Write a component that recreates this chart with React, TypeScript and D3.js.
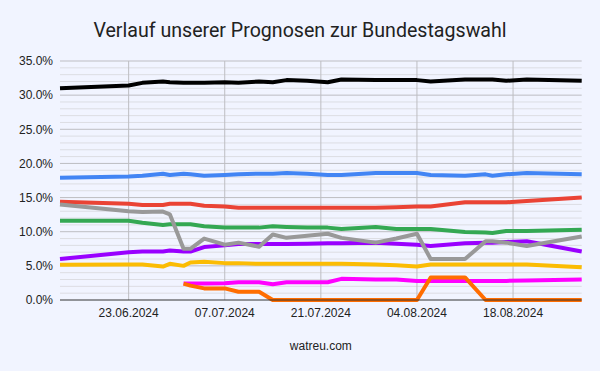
import * as d3 from 'd3'

const W = 600, H = 371
const LEFT = 60, RIGHT = 581.7, TOP = 61, BOTTOM = 300

// dates of the forecasts
const DATES = [
  '2024-06-13', '2024-06-23', '2024-06-25', '2024-06-28', '2024-06-29', '2024-07-01',
  '2024-07-02', '2024-07-04', '2024-07-07', '2024-07-09', '2024-07-12', '2024-07-14',
  '2024-07-16', '2024-07-19', '2024-07-22', '2024-07-24', '2024-07-29', '2024-08-01',
  '2024-08-04', '2024-08-06', '2024-08-11', '2024-08-14', '2024-08-15', '2024-08-17',
  '2024-08-20', '2024-08-28',
]

const CDU = [31.0, 31.4, 31.8, 32.0, 31.9, 31.8, 31.8, 31.8, 31.9, 31.8, 32.0, 31.9, 32.2, 32.1, 31.9, 32.3, 32.2, 32.2, 32.2, 32.0, 32.3, 32.3, 32.3, 32.1, 32.3, 32.1]
const AFD = [17.9, 18.1, 18.2, 18.5, 18.3, 18.5, 18.4, 18.2, 18.3, 18.4, 18.5, 18.5, 18.6, 18.5, 18.3, 18.3, 18.6, 18.6, 18.6, 18.3, 18.2, 18.4, 18.2, 18.4, 18.6, 18.4]
const SPD = [14.4, 14.1, 13.9, 13.9, 14.1, 14.1, 14.1, 13.8, 13.7, 13.5, 13.5, 13.5, 13.5, 13.5, 13.5, 13.5, 13.5, 13.6, 13.7, 13.7, 14.3, 14.3, 14.3, 14.3, 14.5, 15.0]
const GRUENE = [11.6, 11.6, 11.3, 11.0, 11.1, 11.1, 11.1, 10.8, 10.6, 10.6, 10.6, 10.8, 10.7, 10.6, 10.6, 10.4, 10.7, 10.4, 10.4, 10.4, 9.95, 9.9, 9.8, 10.1, 10.1, 10.3]
const BSW = [6.0, 7.0, 7.1, 7.1, 7.25, 7.1, 7.1, 7.75, 8.0, 8.2, 8.2, 8.2, 8.2, 8.25, 8.3, 8.3, 8.4, 8.25, 8.1, 7.9, 8.3, 8.4, 8.4, 8.5, 8.6, 7.1]
const SONSTIGE = [14.0, 13.0, 12.9, 12.95, 12.55, 7.5, 7.5, 9.0, 8.1, 8.4, 7.8, 9.6, 9.1, 9.4, 9.7, 9.1, 8.4, 9.0, 9.7, 6.0, 6.0, 8.6, 8.6, 8.4, 7.9, 9.3]
const FDP = [5.15, 5.2, 5.2, 4.9, 5.3, 5.0, 5.5, 5.6, 5.4, 5.4, 5.3, 5.3, 5.3, 5.3, 5.3, 5.3, 5.2, 5.1, 4.9, 5.2, 5.2, 5.2, 5.2, 5.2, 5.2, 4.8]
const LINKE = [null, null, null, null, null, 2.4, 2.4, 2.4, 2.45, 2.6, 2.6, 2.3, 2.6, 2.6, 2.6, 3.1, 3.0, 3.0, 2.8, 2.8, 2.8, 2.8, 2.8, 2.8, 2.85, 3.0]
const FW = [null, null, null, null, null, 2.4, 2.1, 1.7, 1.7, 1.2, 1.2, 0, 0, 0, 0, 0, 0, 0, 0, 3.3, 3.3, 0, 0, 0, 0, 0]

const Y_TICKS = [0, 5, 10, 15, 20, 25, 30, 35]
const X_TICKS = ['2024-06-23', '2024-07-07', '2024-07-21', '2024-08-04', '2024-08-18']

// drawing order: first is painted below
const SERIES = [
  { name: 'AfD', values: AFD, color: '#4285f4' },
  { name: 'SPD', values: SPD, color: '#ea4335' },
  { name: 'Grüne', values: GRUENE, color: '#34a853' },
  { name: 'FDP', values: FDP, color: '#fbbc04' },
  { name: 'BSW', values: BSW, color: '#9900ff' },
  { name: 'Sonstige', values: SONSTIGE, color: '#999999' },
  { name: 'Linke', values: LINKE, color: '#ff00ff' },
  { name: 'FW', values: FW, color: '#ff6d01' },
  { name: 'CDU/CSU', values: CDU, color: '#000000' },
]

const parse = d3.timeParse('%Y-%m-%d')
const fmt = d3.timeFormat('%d.%m.%Y')

export default function App() {
  const dates = DATES.map(d => parse(d) as Date)
  const x = d3.scaleTime([parse('2024-06-13') as Date, parse('2024-08-28') as Date], [LEFT, RIGHT])
  const y = d3.scaleLinear([0, 35], [BOTTOM, TOP])
  const minor = d3.range(0, 36, 1).filter(v => v % 5 !== 0)

  const line = d3.line<number | null>()
    .defined(v => v !== null)
    .x((_, i) => x(dates[i]))
    .y(v => y(v as number))

  const font = '"Liberation Sans", Arial, sans-serif'

  return (
    <svg width={W} height={H} style={{ position: 'fixed', left: 0, top: 0 }} fontFamily={font}>
      <rect width={W} height={H} fill="#f1f4ff" />
      <text x={300} y={37} textAnchor="middle" fontSize={19.6} fontFamily="Roboto, sans-serif" fill="#222">
        Verlauf unserer Prognosen zur Bundestagswahl
      </text>

      {minor.map(v => (
        <line key={'m' + v} x1={LEFT} x2={RIGHT} y1={y(v)} y2={y(v)} stroke="#dcdde3" strokeWidth={1} />
      ))}
      {Y_TICKS.map(v => (
        <g key={'y' + v}>
          {v > 0 && <line x1={LEFT} x2={RIGHT} y1={y(v)} y2={y(v)} stroke="#bdbdc2" strokeWidth={1} />}
          <text x={53} y={y(v)} dy="0.36em" textAnchor="end" fontSize={12} fill="#222">
            {v.toFixed(1) + '%'}
          </text>
        </g>
      ))}
      {X_TICKS.map(t => {
        const d = parse(t) as Date
        return (
          <g key={t}>
            <line x1={x(d)} x2={x(d)} y1={TOP} y2={BOTTOM} stroke="#bdbdc2" strokeWidth={1} />
            <text x={x(d)} y={317} textAnchor="middle" fontSize={12} fill="#222">{fmt(d)}</text>
          </g>
        )
      })}

      {SERIES.map(s => (
        <path key={s.name} d={line(s.values) || ''} fill="none" stroke={s.color}
          strokeWidth={4} strokeLinejoin="round" strokeLinecap="butt" />
      ))}

      <line x1={LEFT} x2={RIGHT} y1={BOTTOM} y2={BOTTOM} stroke="#333" strokeWidth={1} />

      <text x={(LEFT + RIGHT) / 2} y={350} textAnchor="middle" fontSize={12} fill="#222">watreu.com</text>
    </svg>
  )
}
